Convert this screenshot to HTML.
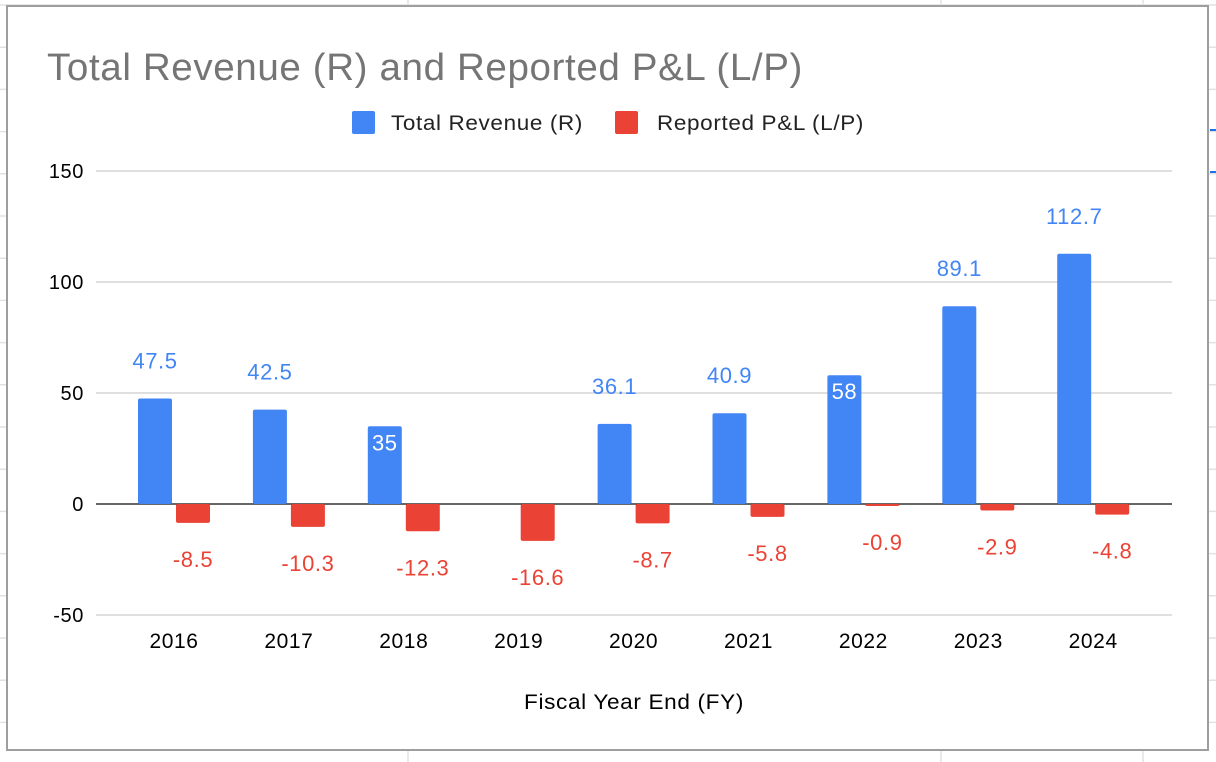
<!DOCTYPE html>
<html><head><meta charset="utf-8"><style>
html,body{margin:0;padding:0;background:#fff;}
svg{display:block;font-family:"Liberation Sans",Arial,sans-serif;}
text{letter-spacing:0.6px;}
</style></head><body>
<svg id="chart" width="1216" height="762">
<g id="bg" stroke="#e2e2e2" stroke-width="1.5"></g>
<rect x="7" y="6" width="1201" height="744" fill="#fff" stroke="#9e9e9e" stroke-width="2"/>
<line x1="1210" y1="130" x2="1216" y2="130" stroke="#1a73e8" stroke-width="2"/>
<line x1="1210" y1="172" x2="1216" y2="172" stroke="#1a73e8" stroke-width="2"/>
<text x="47" y="80" font-size="38" fill="#757575" textLength="756" lengthAdjust="spacingAndGlyphs">Total Revenue (R) and Reported P&amp;L (L/P)</text>
<g>
<rect x="352" y="111" width="23" height="23" rx="2" fill="#4285f4"/>
<text x="391" y="130" font-size="21" fill="#222" textLength="192" lengthAdjust="spacingAndGlyphs">Total Revenue (R)</text>
<rect x="615" y="111" width="23" height="23" rx="2" fill="#ea4335"/>
<text x="657" y="130" font-size="21" fill="#222" textLength="207" lengthAdjust="spacingAndGlyphs">Reported P&amp;L (L/P)</text>
</g>
<g id="grid"></g>
<g id="bars"></g>
<text x="634" y="709" font-size="21" text-anchor="middle" fill="#000" textLength="220" lengthAdjust="spacingAndGlyphs">Fiscal Year End (FY)</text>
</svg>
<script>
const categories=["2016","2017","2018","2019","2020","2021","2022","2023","2024"];
const revenue=[47.5,42.5,35,null,36.1,40.9,58,89.1,112.7];
const pl=[-8.5,-10.3,-12.3,-16.6,-8.7,-5.8,-0.9,-2.9,-4.8];
const yTicks=[150,100,50,0,-50];
const NS="http://www.w3.org/2000/svg";
const y=v=>504-v*2.22;
const x=i=>174+i*114.9;
function el(t,a,p){const e=document.createElementNS(NS,t);for(const k in a)e.setAttribute(k,a[k]);p.appendChild(e);return e;}
const bg=document.getElementById('bg');
for(let gy=5;gy<762;gy+=42.2){el('line',{x1:0,x2:1216,y1:gy,y2:gy},bg);}
[408,941,1143].forEach(gx=>{el('line',{x1:gx,x2:gx,y1:0,y2:762},bg);});
const grid=document.getElementById('grid');
yTicks.forEach(t=>{
 const l=el('line',{x1:96,x2:1172,y1:y(t),y2:y(t),stroke:t===0?'#333':'#ccc','stroke-width':t===0?1.5:1.3},grid);
 
 
 const tx=el('text',{x:84,y:y(t)+7,'font-size':20,'text-anchor':'end',fill:'#000'},grid);
 tx.textContent=t;
 
 
});
const bars=document.getElementById('bars');
categories.forEach((c,i)=>{
 const cx=x(i);
 const xt=el('text',{x:cx,y:648,'font-size':21,'text-anchor':'middle',fill:'#000'},bars);
 xt.textContent=c;
 
 
 const r=revenue[i];
 if(r!==null){
  const b=el('rect',{x:cx-36,y:y(r),width:34,height:504-y(r),fill:'#4285f4',rx:2},bars);
  
  
  const inside=(r===35||r===58);
  const lt=el('text',{x:cx-19,y:inside?y(r)+24:y(r)-30,'font-size':22,'text-anchor':'middle',fill:inside?'#fff':'#4285f4'},bars);
  lt.textContent=r;
  
  
 }
 const p=pl[i];
 const b2=el('rect',{x:cx+2,y:504,width:34,height:y(p)-504,fill:'#ea4335',rx:2},bars);
 
 
 const l2=el('text',{x:cx+19,y:y(p)+44,'font-size':22,'text-anchor':'middle',fill:'#ea4335'},bars);
 l2.textContent=p;
 
 
});
</script>
</body></html>
